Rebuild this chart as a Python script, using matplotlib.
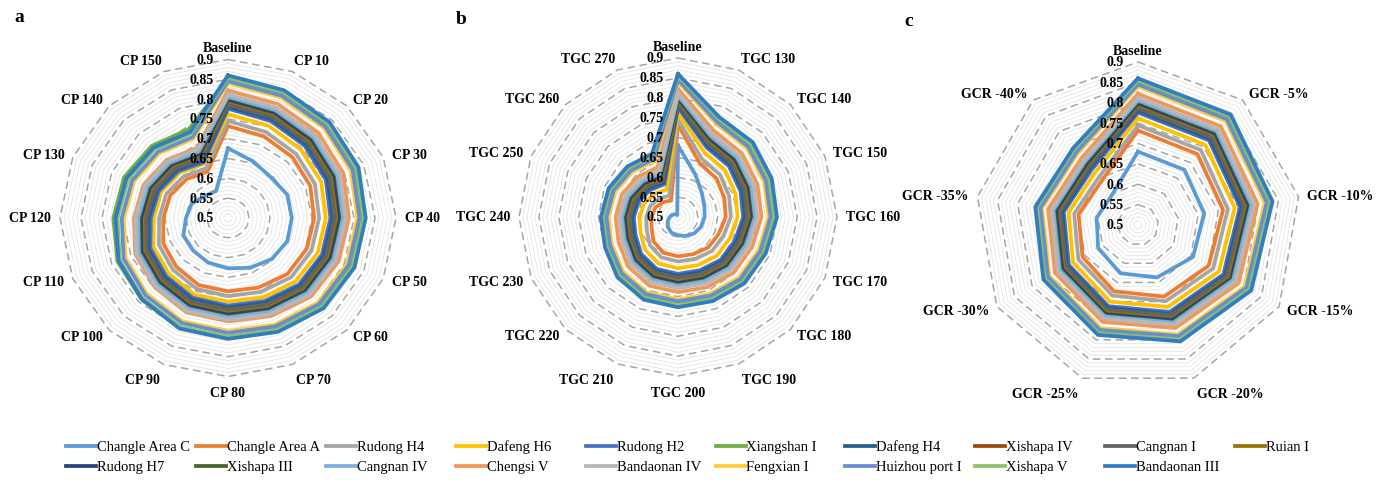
import numpy as np
import matplotlib
matplotlib.use("Agg")
import matplotlib.pyplot as plt
from matplotlib.lines import Line2D

plt.rcParams['font.family'] = ['Liberation Serif', 'DejaVu Serif']

# series names in drawing order (legend row 1, then row 2)
sites = ["Changle Area C", "Changle Area A", "Rudong H4", "Dafeng H6", "Rudong H2",
         "Xiangshan I", "Dafeng H4", "Xishapa IV", "Cangnan I", "Ruian I",
         "Rudong H7", "Xishapa III", "Cangnan IV", "Chengsi V", "Bandaonan IV",
         "Fengxian I", "Huizhou port I", "Xishapa V", "Bandaonan III"]
colors = ["#5B9BD5", "#ED7D31", "#A5A5A5", "#FFC000", "#4472C4",
          "#70AD47", "#255E91", "#9E480E", "#636363", "#997300",
          "#264478", "#43682B", "#7CAFDD", "#F1975A", "#B7B7B7",
          "#FFCD33", "#698ED0", "#8CC168", "#327DC2"]

# panel a: CP scenarios
cats_a = ["Baseline"] + ["CP %d" % v for v in range(10, 160, 10)]
vals_a = [
    [0.676, 0.655, 0.645, 0.653, 0.652, 0.653, 0.647, 0.636, 0.627, 0.622, 0.617, 0.615, 0.600, 0.594, 0.578, 0.574],
    [0.732, 0.723, 0.717, 0.712, 0.705, 0.703, 0.700, 0.690, 0.685, 0.683, 0.674, 0.667, 0.654, 0.649, 0.639, 0.627],
    [0.745, 0.735, 0.729, 0.724, 0.717, 0.715, 0.712, 0.702, 0.697, 0.694, 0.685, 0.678, 0.664, 0.659, 0.649, 0.636],
    [0.762, 0.752, 0.745, 0.740, 0.733, 0.731, 0.727, 0.717, 0.711, 0.709, 0.699, 0.692, 0.677, 0.672, 0.662, 0.648],
    [0.776, 0.765, 0.758, 0.752, 0.744, 0.742, 0.738, 0.727, 0.721, 0.718, 0.708, 0.700, 0.684, 0.678, 0.667, 0.652],
    [0.851, 0.840, 0.833, 0.828, 0.820, 0.818, 0.815, 0.805, 0.800, 0.799, 0.791, 0.785, 0.773, 0.768, 0.757, 0.743],
    [0.781, 0.770, 0.763, 0.757, 0.749, 0.747, 0.743, 0.732, 0.726, 0.723, 0.713, 0.705, 0.689, 0.683, 0.672, 0.657],
    [0.793, 0.782, 0.775, 0.769, 0.761, 0.759, 0.755, 0.744, 0.738, 0.735, 0.725, 0.717, 0.701, 0.695, 0.684, 0.669],
    [0.786, 0.775, 0.768, 0.762, 0.754, 0.752, 0.748, 0.737, 0.731, 0.728, 0.718, 0.710, 0.694, 0.688, 0.677, 0.662],
    [0.795, 0.784, 0.777, 0.771, 0.763, 0.761, 0.757, 0.746, 0.740, 0.737, 0.727, 0.719, 0.703, 0.697, 0.686, 0.671],
    [0.799, 0.788, 0.781, 0.775, 0.767, 0.765, 0.761, 0.750, 0.744, 0.741, 0.731, 0.723, 0.707, 0.701, 0.690, 0.675],
    [0.804, 0.793, 0.786, 0.780, 0.772, 0.770, 0.766, 0.755, 0.749, 0.746, 0.736, 0.728, 0.712, 0.706, 0.695, 0.680],
    [0.806, 0.795, 0.788, 0.782, 0.774, 0.772, 0.768, 0.757, 0.751, 0.748, 0.738, 0.730, 0.714, 0.708, 0.697, 0.682],
    [0.822, 0.811, 0.804, 0.797, 0.788, 0.785, 0.780, 0.768, 0.761, 0.758, 0.747, 0.739, 0.724, 0.718, 0.707, 0.692],
    [0.812, 0.801, 0.794, 0.788, 0.780, 0.778, 0.774, 0.763, 0.757, 0.754, 0.744, 0.736, 0.720, 0.714, 0.703, 0.688],
    [0.840, 0.829, 0.822, 0.816, 0.808, 0.806, 0.802, 0.791, 0.785, 0.782, 0.772, 0.764, 0.748, 0.742, 0.731, 0.716],
    [0.845, 0.834, 0.827, 0.821, 0.813, 0.811, 0.807, 0.796, 0.790, 0.787, 0.777, 0.769, 0.753, 0.747, 0.736, 0.721],
    [0.855, 0.844, 0.837, 0.831, 0.823, 0.821, 0.817, 0.806, 0.800, 0.797, 0.787, 0.779, 0.763, 0.757, 0.746, 0.731],
    [0.860, 0.849, 0.842, 0.836, 0.828, 0.826, 0.822, 0.811, 0.805, 0.802, 0.790, 0.782, 0.768, 0.762, 0.751, 0.735],
]

# panel b: TGC scenarios
cats_b = ["Baseline"] + ["TGC %d" % v for v in range(130, 280, 10)]
vals_b = [
    [0.680, 0.615, 0.585, 0.572, 0.567, 0.563, 0.558, 0.552, 0.546, 0.543, 0.536, 0.528, 0.521, 0.515, 0.510, 0.505],
    [0.732, 0.645, 0.637, 0.626, 0.620, 0.611, 0.608, 0.601, 0.599, 0.597, 0.587, 0.572, 0.567, 0.562, 0.553, 0.545],
    [0.745, 0.658, 0.650, 0.639, 0.633, 0.624, 0.621, 0.614, 0.612, 0.610, 0.600, 0.585, 0.580, 0.575, 0.566, 0.558],
    [0.762, 0.675, 0.667, 0.656, 0.650, 0.641, 0.638, 0.631, 0.629, 0.627, 0.617, 0.602, 0.597, 0.592, 0.583, 0.575],
    [0.776, 0.689, 0.681, 0.670, 0.664, 0.655, 0.652, 0.645, 0.643, 0.641, 0.631, 0.616, 0.611, 0.606, 0.597, 0.589],
    [0.851, 0.764, 0.756, 0.745, 0.739, 0.730, 0.727, 0.720, 0.718, 0.716, 0.706, 0.691, 0.686, 0.681, 0.672, 0.664],
    [0.781, 0.694, 0.686, 0.675, 0.669, 0.660, 0.657, 0.650, 0.648, 0.646, 0.636, 0.621, 0.616, 0.611, 0.602, 0.594],
    [0.793, 0.706, 0.698, 0.687, 0.681, 0.672, 0.669, 0.662, 0.660, 0.658, 0.648, 0.633, 0.628, 0.623, 0.614, 0.606],
    [0.786, 0.699, 0.691, 0.680, 0.674, 0.665, 0.662, 0.655, 0.653, 0.651, 0.641, 0.626, 0.621, 0.616, 0.607, 0.599],
    [0.795, 0.708, 0.700, 0.689, 0.683, 0.674, 0.671, 0.664, 0.662, 0.660, 0.650, 0.635, 0.630, 0.625, 0.616, 0.608],
    [0.799, 0.712, 0.704, 0.693, 0.687, 0.678, 0.675, 0.668, 0.666, 0.664, 0.654, 0.639, 0.634, 0.629, 0.620, 0.612],
    [0.804, 0.717, 0.709, 0.698, 0.692, 0.683, 0.680, 0.673, 0.671, 0.669, 0.659, 0.644, 0.639, 0.634, 0.625, 0.617],
    [0.806, 0.719, 0.711, 0.700, 0.694, 0.685, 0.682, 0.675, 0.673, 0.671, 0.661, 0.646, 0.641, 0.636, 0.627, 0.619],
    [0.822, 0.735, 0.727, 0.716, 0.710, 0.701, 0.698, 0.691, 0.689, 0.687, 0.677, 0.662, 0.657, 0.652, 0.643, 0.635],
    [0.812, 0.725, 0.717, 0.706, 0.700, 0.691, 0.688, 0.681, 0.679, 0.677, 0.667, 0.652, 0.647, 0.642, 0.633, 0.625],
    [0.840, 0.753, 0.745, 0.734, 0.728, 0.719, 0.716, 0.709, 0.707, 0.705, 0.695, 0.680, 0.675, 0.670, 0.661, 0.653],
    [0.845, 0.758, 0.750, 0.739, 0.733, 0.724, 0.721, 0.714, 0.712, 0.710, 0.700, 0.685, 0.680, 0.675, 0.666, 0.658],
    [0.855, 0.768, 0.760, 0.749, 0.743, 0.734, 0.731, 0.724, 0.722, 0.720, 0.710, 0.695, 0.690, 0.685, 0.676, 0.668],
    [0.860, 0.772, 0.766, 0.755, 0.749, 0.739, 0.736, 0.729, 0.727, 0.725, 0.715, 0.699, 0.694, 0.689, 0.680, 0.672],
]

# panel c: GCR scenarios
cats_c = ["Baseline", "GCR -5%", "GCR -10%", "GCR -15%", "GCR -20%",
          "GCR -25%", "GCR -30%", "GCR -35%", "GCR -40%"]
vals_c = [
    [0.680, 0.677, 0.665, 0.656, 0.637, 0.626, 0.613, 0.603, 0.598],
    [0.732, 0.727, 0.712, 0.700, 0.687, 0.673, 0.657, 0.648, 0.640],
    [0.745, 0.740, 0.724, 0.713, 0.699, 0.684, 0.669, 0.659, 0.651],
    [0.762, 0.757, 0.741, 0.729, 0.714, 0.700, 0.684, 0.673, 0.666],
    [0.776, 0.771, 0.754, 0.742, 0.727, 0.712, 0.696, 0.685, 0.677],
    [0.851, 0.845, 0.826, 0.813, 0.796, 0.779, 0.760, 0.748, 0.739],
    [0.781, 0.776, 0.759, 0.747, 0.732, 0.717, 0.700, 0.689, 0.682],
    [0.793, 0.788, 0.770, 0.758, 0.743, 0.727, 0.710, 0.699, 0.691],
    [0.786, 0.781, 0.764, 0.751, 0.736, 0.721, 0.704, 0.694, 0.686],
    [0.795, 0.790, 0.772, 0.760, 0.745, 0.729, 0.712, 0.701, 0.693],
    [0.799, 0.794, 0.776, 0.764, 0.748, 0.733, 0.715, 0.704, 0.696],
    [0.804, 0.799, 0.781, 0.768, 0.753, 0.737, 0.720, 0.709, 0.701],
    [0.806, 0.801, 0.783, 0.770, 0.755, 0.739, 0.722, 0.711, 0.703],
    [0.822, 0.816, 0.798, 0.785, 0.769, 0.753, 0.735, 0.724, 0.715],
    [0.812, 0.806, 0.789, 0.776, 0.760, 0.744, 0.727, 0.715, 0.707],
    [0.840, 0.834, 0.816, 0.802, 0.786, 0.769, 0.751, 0.739, 0.730],
    [0.845, 0.839, 0.821, 0.807, 0.790, 0.774, 0.755, 0.743, 0.734],
    [0.855, 0.849, 0.830, 0.816, 0.799, 0.783, 0.764, 0.752, 0.743],
    [0.860, 0.854, 0.835, 0.821, 0.804, 0.787, 0.768, 0.756, 0.747],
]

r_ticks = [0.5, 0.55, 0.6, 0.65, 0.7, 0.75, 0.8, 0.85, 0.9]
r_tick_labels = ["0.5", "0.55", "0.6", "0.65", "0.7", "0.75", "0.8", "0.85", "0.9"]

W, H = 1384, 481
fig = plt.figure(figsize=(W / 100, H / 100), dpi=100)


def radar(cx, cy, rx, ry, cats, vals, letter, lx, ly):
    ax = fig.add_axes([(cx - rx) / W, (H - cy - ry) / H, 2 * rx / W, 2 * ry / H],
                      projection="polar")
    ax.set_aspect("auto")
    ax.set_theta_zero_location("N")
    ax.set_theta_direction(-1)
    ax.set_ylim(0.5, 0.9)
    ax.set_xticks([])
    ax.set_yticks([])
    ax.grid(False)
    ax.spines["polar"].set_visible(False)
    ax.patch.set_alpha(0)

    n = len(cats)
    theta = np.linspace(0, 2 * np.pi, n, endpoint=False)
    tclosed = np.append(theta, theta[0])

    # light minor rings every 0.01
    for k in range(51, 90):
        if k % 5 == 0:
            continue
        ax.plot(tclosed, [k / 100] * (n + 1), color="#E4E4E4", lw=0.6, zorder=1, clip_on=False)
    # dashed major rings
    for r in r_ticks[1:]:
        ax.plot(tclosed, [r] * (n + 1), color="#A6A6A6", lw=1.1, ls=(0, (5, 3)),
                zorder=2, clip_on=False)

    for v, c in zip(vals, colors):
        ax.plot(tclosed, v + v[:1], color=c, lw=2.7, zorder=3, clip_on=False)

    for r, t in zip(r_ticks, r_tick_labels):
        ax.annotate(t, xy=(0, r), xytext=(-10, 0), textcoords="offset points",
                    ha="right", va="center", fontsize=10, fontweight="bold", zorder=5)

    for t, lab in zip(theta, cats):
        s, c = np.sin(t), np.cos(t)
        ha = "left" if s > 0.2 else ("right" if s < -0.2 else "center")
        if c > 0.9:
            va, rl = "bottom", 0.913
        elif c < -0.9:
            va, rl = "top", 0.924
        else:
            va, rl = "center", 0.922
        ax.text(t, rl, lab, ha=ha, va=va, fontsize=10, fontweight="bold")

    fig.text(lx / W, 1 - ly / H, letter, fontsize=14, fontweight="bold", va="center")
    return ax


radar(228, 219, 168, 158.5, cats_a, vals_a, "a", 14, 18)
radar(678, 218, 159, 159, cats_b, vals_b, "b", 456, 20)
radar(1138, 226, 163, 163, cats_c, vals_c, "c", 904, 22)

# legend: 10 columns x 2 rows at fixed spacing
for i, (name, col) in enumerate(zip(sites, colors)):
    row, j = divmod(i, 10)
    x0 = 66 + 129.9 * j
    y0 = 447 + 20 * row
    fig.add_artist(Line2D([x0 / W, (x0 + 30) / W], [1 - y0 / H] * 2,
                          color=col, lw=2.7, transform=fig.transFigure))
    fig.text((x0 + 31) / W, 1 - (y0 + 4) / H, name, fontsize=10.5,
             va="baseline", ha="left")

fig.savefig("out.png", dpi=100)
